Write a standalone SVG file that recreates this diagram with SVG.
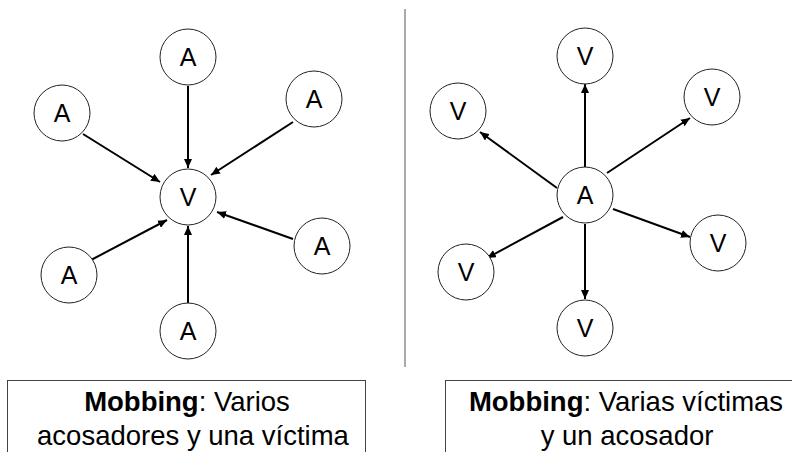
<svg xmlns="http://www.w3.org/2000/svg" width="792" height="452" viewBox="0 0 792 452">
<style>
.n circle{fill:#fff;stroke:#222;stroke-width:1}
.n text{font-family:"Liberation Sans",Arial,sans-serif;font-size:25px;fill:#000;text-anchor:middle}
.e line{stroke:#000;stroke-width:2;marker-end:url(#ah)}
.cap{font-family:"Liberation Sans",Arial,sans-serif;font-size:27.5px;fill:#000;text-anchor:middle}
.box{fill:#fff;stroke:#444;stroke-width:1}
</style>
<defs>
<marker id="ah" markerUnits="userSpaceOnUse" markerWidth="10" markerHeight="8" refX="9" refY="4" orient="auto">
<path d="M0,0 L9,4 L0,8 Z" fill="#000"/>
</marker>
</defs>
<rect width="792" height="452" fill="#fff"/>
<line x1="405" y1="9" x2="405" y2="367" stroke="#555" stroke-width="1"/>
<g id="edges" class="e">
<line x1="188" y1="86" x2="188" y2="168"/>
<line x1="83" y1="134" x2="160" y2="182"/>
<line x1="293" y1="122" x2="211" y2="175"/>
<line x1="293" y1="239" x2="217" y2="212"/>
<line x1="91" y1="260" x2="167" y2="220"/>
<line x1="188" y1="303" x2="188" y2="226"/>
<line x1="585" y1="167" x2="585" y2="84"/>
<line x1="557" y1="188" x2="480" y2="132"/>
<line x1="607" y1="173" x2="690" y2="118"/>
<line x1="613" y1="209" x2="690" y2="237"/>
<line x1="563" y1="217" x2="487" y2="258"/>
<line x1="585" y1="224" x2="585" y2="299"/>
</g>
<g id="L_V" class="n"><circle cx="188" cy="197" r="28"/><text x="188" y="206">V</text></g>
<g id="L_A1" class="n"><circle cx="188" cy="57" r="28"/><text x="188" y="66">A</text></g>
<g id="L_A2" class="n"><circle cx="62" cy="113" r="28"/><text x="62" y="122">A</text></g>
<g id="L_A3" class="n"><circle cx="314" cy="99" r="28"/><text x="314" y="108">A</text></g>
<g id="L_A4" class="n"><circle cx="322" cy="246" r="28"/><text x="322" y="255">A</text></g>
<g id="L_A5" class="n"><circle cx="69" cy="275" r="28"/><text x="69" y="284">A</text></g>
<g id="L_A6" class="n"><circle cx="188" cy="331" r="28"/><text x="188" y="340">A</text></g>
<g id="R_A" class="n"><circle cx="585" cy="195" r="28"/><text x="585" y="204">A</text></g>
<g id="R_V1" class="n"><circle cx="585" cy="56" r="28"/><text x="585" y="65">V</text></g>
<g id="R_V2" class="n"><circle cx="458" cy="111" r="28"/><text x="458" y="120">V</text></g>
<g id="R_V3" class="n"><circle cx="712" cy="97" r="28"/><text x="712" y="106">V</text></g>
<g id="R_V4" class="n"><circle cx="718" cy="243" r="28"/><text x="718" y="252">V</text></g>
<g id="R_V5" class="n"><circle cx="466" cy="272" r="28"/><text x="466" y="281">V</text></g>
<g id="R_V6" class="n"><circle cx="585" cy="328" r="28"/><text x="585" y="337">V</text></g>
<g id="cap_left">
<rect class="box" x="7.5" y="380.5" width="358" height="80"/>
<text class="cap" x="187" y="411"><tspan font-weight="bold">Mobbing</tspan>: Varios</text>
<text class="cap" x="193" y="445">acosadores y una víctima</text>
</g>
<g id="cap_right">
<rect class="box" x="445.5" y="380.5" width="360" height="80"/>
<text class="cap" x="626" y="411"><tspan font-weight="bold">Mobbing</tspan>: Varias víctimas</text>
<text class="cap" x="627" y="445">y un acosador</text>
</g>
</svg>
